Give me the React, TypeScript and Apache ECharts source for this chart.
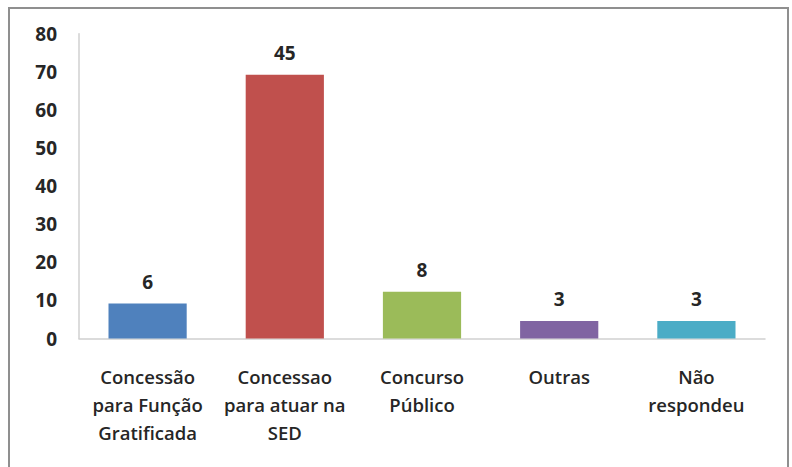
import React, { useEffect, useRef } from "react";
import * as echarts from "echarts";

const categories = [
  "Concessão\npara Função\nGratificada",
  "Concessao\npara atuar na\nSED",
  "Concurso\nPúblico",
  "Outras",
  "Não\nrespondeu",
];
const percentValues = [9.2, 69.2, 12.3, 4.6, 4.6];
const countLabels = ["6", "45", "8", "3", "3"];
const barColors = ["#4F81BD", "#C0504D", "#9BBB59", "#8064A2", "#4BACC6"];
const yTicks = { min: 0, max: 80, interval: 10 };

const FONT = "'Open Sans', 'Noto Sans', sans-serif";

export default function App() {
  const ref = useRef<HTMLDivElement>(null);
  useEffect(() => {
    if (!ref.current) return;
    const chart = echarts.init(ref.current, undefined, { renderer: "svg" });
    chart.setOption({
      animation: false,
      backgroundColor: "#ffffff",
      graphic: [
        {
          type: "rect",
          shape: { x: 9, y: 8, width: 779, height: 480 },
          style: { fill: "none", stroke: "#8f8f8f", lineWidth: 2 },
          z: 100,
        },
      ],
      grid: { left: 79, right: 27, top: 33.7, bottom: 128.5 },
      xAxis: {
        type: "category",
        data: categories,
        axisLine: { show: true, lineStyle: { color: "#d0d0d0", width: 1.5 } },
        axisTick: { show: false },
        axisLabel: {
          interval: 0,
          margin: 24,
          fontFamily: FONT,
          fontSize: 18.5,
          fontWeight: 600,
          color: "#262626",
          lineHeight: 28,
        },
      },
      yAxis: {
        type: "value",
        min: yTicks.min,
        max: yTicks.max,
        interval: yTicks.interval,
        splitLine: { show: false },
        axisLine: { show: true, lineStyle: { color: "#d0d0d0", width: 1.5 } },
        axisTick: { show: false },
        axisLabel: {
          margin: 22,
          fontFamily: FONT,
          fontSize: 19,
          fontWeight: "bold",
          color: "#262626",
        },
      },
      series: [
        {
          type: "bar",
          barWidth: "57%",
          data: percentValues.map((v, i) => ({
            value: v,
            itemStyle: { color: barColors[i] },
            label: { formatter: countLabels[i] },
          })),
          label: {
            show: true,
            position: "top",
            distance: 12,
            fontFamily: FONT,
            fontSize: 19,
            fontWeight: "bold",
            color: "#262626",
          },
        },
      ],
    });
    return () => chart.dispose();
  }, []);
  return (
    <div
      ref={ref}
      style={{ position: "fixed", left: 0, top: 0, width: 792, height: 467 }}
    />
  );
}
